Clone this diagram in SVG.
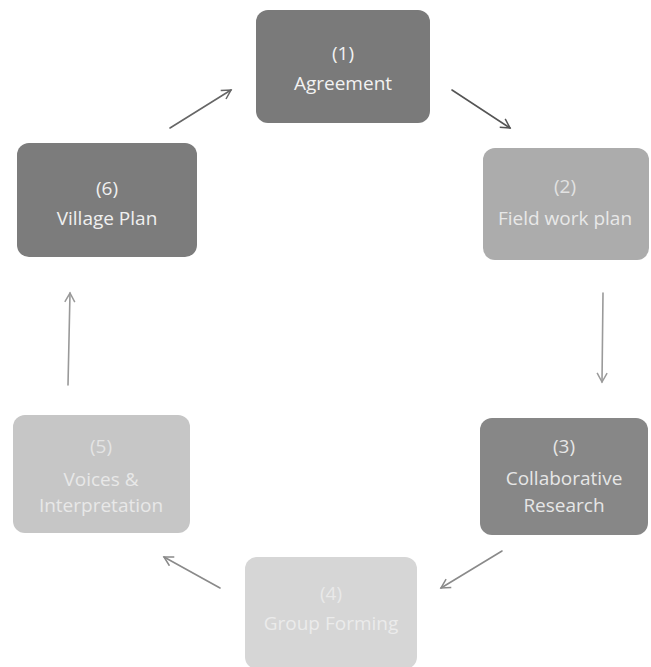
<svg xmlns="http://www.w3.org/2000/svg" width="651" height="667" viewBox="0 0 651 667">
<defs>
<marker id="ah" markerWidth="12" markerHeight="12" refX="10" refY="6" orient="auto" markerUnits="userSpaceOnUse">
<path d="M1,1 L10,6 L1,11" fill="none" stroke="context-stroke" stroke-width="1.5"/>
</marker>
<filter id="soft"><feGaussianBlur stdDeviation="0.6"/></filter>
</defs>
<style>
.box{stroke:none}
.t{font-family:"Open Sans","Liberation Sans",sans-serif;font-size:19px;text-anchor:middle}
.c{fill:none;stroke-width:1.6;stroke-linecap:round;marker-end:url(#ah)}
</style>
<rect width="651" height="667" fill="#ffffff"/>
<g id="n1">
<rect class="box" x="256" y="10" width="174" height="113" rx="12" fill="#7a7a7a"/>
<text class="t" x="343" y="60" fill="#f2f2f2">(1)</text>
<text class="t" x="343" y="90" fill="#f2f2f2">Agreement</text>
</g>
<g id="n2">
<rect class="box" x="483" y="148" width="166" height="112" rx="12" fill="#acacac"/>
<text class="t" x="565" y="193" fill="#e2e2e2">(2)</text>
<text class="t" x="565" y="225" fill="#e8e8e8">Field work plan</text>
</g>
<g id="n3">
<rect class="box" x="480" y="418" width="168" height="117" rx="12" fill="#878787"/>
<text class="t" x="564" y="453" fill="#e6e6e6">(3)</text>
<text class="t" x="564" y="485" fill="#e6e6e6">Collaborative</text>
<text class="t" x="564" y="512" fill="#e6e6e6">Research</text>
</g>
<g id="n4">
<rect class="box" x="245" y="557" width="172" height="112" rx="12" fill="#d6d6d6"/>
<text class="t" x="331" y="600" fill="#e9e9e9">(4)</text>
<text class="t" x="331" y="630" fill="#ebebeb">Group Forming</text>
</g>
<g id="n5">
<rect class="box" x="13" y="415" width="177" height="118" rx="12" fill="#c6c6c6"/>
<text class="t" x="101" y="453" fill="#e4e4e4">(5)</text>
<text class="t" x="101" y="486" fill="#e8e8e8">Voices &amp;</text>
<text class="t" x="101" y="512" fill="#e8e8e8">Interpretation</text>
</g>
<g id="n6">
<rect class="box" x="17" y="143" width="180" height="114" rx="12" fill="#7c7c7c"/>
<text class="t" x="107" y="195" fill="#f0f0f0">(6)</text>
<text class="t" x="107" y="225" fill="#f0f0f0">Village Plan</text>
</g>
<g id="connectors">
<path class="c" d="M452,90 L510,128" stroke="#555555"/>
<path class="c" d="M603,293 L602,382" stroke="#9a9a9a"/>
<path class="c" d="M502,551 L441,588" stroke="#8a8a8a"/>
<path class="c" d="M220,588 L164,557" stroke="#8a8a8a"/>
<path class="c" d="M68,385 L70,293" stroke="#999999"/>
<path class="c" d="M170,128 L231,90" stroke="#666666"/>
</g>
</svg>
